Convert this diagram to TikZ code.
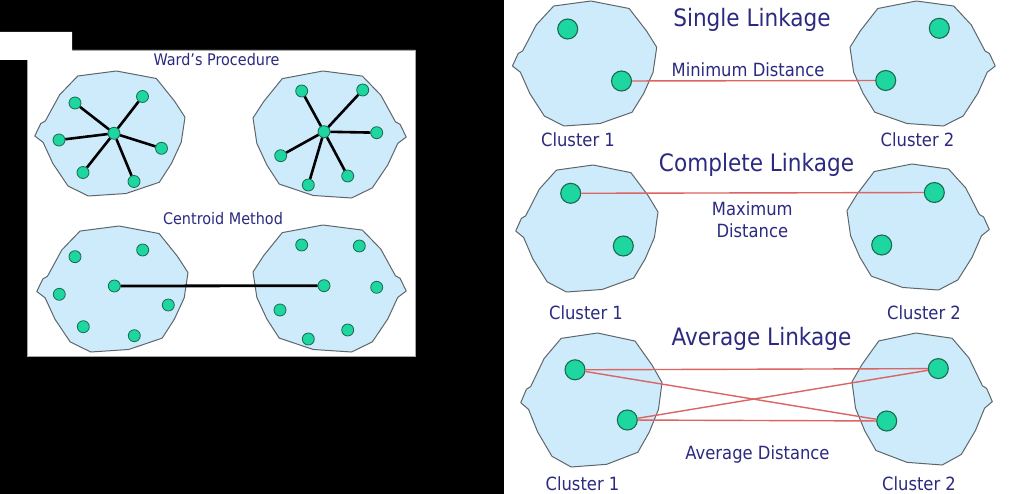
\documentclass[tikz,border=0pt]{standalone}
\usepackage{fontspec}
\setmainfont{DejaVu Sans}[FakeStretch=0.9]
\definecolor{txt}{HTML}{2B2A80}
\definecolor{blobfill}{HTML}{CDEBFA}
\definecolor{blobline}{HTML}{5F666B}
\definecolor{dotfill}{HTML}{1ED6A0}
\definecolor{dotline}{HTML}{1A6B50}
\definecolor{redline}{HTML}{DC6462}
\tikzset{
  blobstyle/.style={draw=blobline, fill=blobfill, line width=1pt, line join=round},
  blob/.pic={\path[blobstyle] (0.29,0.04) -- (0.546,0) -- (0.81,0.06) -- (0.93,0.24) -- (1,0.37) -- (0.975,0.57) -- (0.91,0.74) -- (0.83,0.89) -- (0.61,0.98) -- (0.36,1) -- (0.225,0.92) -- (0.125,0.74) -- (0.06,0.57) -- (0.005,0.52) -- (0.045,0.42) -- (0.075,0.40) -- (0.17,0.19) -- cycle;},
  sdot/.style={circle, draw=dotline, fill=dotfill, line width=0.8pt, minimum size=12pt, inner sep=0pt},
  bdot/.style={circle, draw=dotline, fill=dotfill, line width=1.1pt, minimum size=20pt, inner sep=0pt},
  spoke/.style={line width=2.6pt, black},
  link/.style={redline, line width=1.4pt},
  bigtitle/.style={text=txt, anchor=base, inner sep=0pt, font=\fontsize{24}{26}\selectfont},
  lab/.style={text=txt, anchor=base, inner sep=0pt, font=\fontsize{18.2}{20}\selectfont},
  smalltitle/.style={text=txt, anchor=base, inner sep=0pt, font=\fontsize{16}{18}\selectfont},
}
\begin{document}
\begin{tikzpicture}[x=1pt,y=-1pt]
\fill[black] (0,0) rectangle (1024,494);
\useasboundingbox (0,0) rectangle (1024,494);
\fill[white] (504,0) rectangle (1024,494);
\fill[white] (0,32) -- (72,32) -- (72,50) -- (415,50) -- (415,356) -- (27,356) -- (27,60) -- (0,60) -- cycle;
\draw[black!35, line width=0.8pt] (27,60) -- (27,356) -- (415,356) -- (415,50) -- (72,50);

% ---------- left panel ----------
\pic[xscale=151, yscale=125] at (34,71) {blob};
\pic[xscale=-154, yscale=127] at (407,71) {blob};
\pic[xscale=152, yscale=126] at (36,226) {blob};
\pic[xscale=-154, yscale=127] at (407,225) {blob};

\node[smalltitle] (wardt) at (216.5,65.5) {Ward’s Procedure};
\node[smalltitle] (centt) at (223,224.3) {Centroid Method};

% Ward left
\node[sdot] (wlc) at (114,133.3) {};
\node[sdot] (wl1) at (75,103) {};
\node[sdot] (wl2) at (142.5,96.5) {};
\node[sdot] (wl3) at (59,140) {};
\node[sdot] (wl4) at (161.5,148.3) {};
\node[sdot] (wl5) at (83,172.5) {};
\node[sdot] (wl6) at (134,181.5) {};
\foreach \i in {1,...,6} \draw[spoke] (wlc) -- (wl\i);
% Ward right
\node[sdot] (wrc) at (324,131.7) {};
\node[sdot] (wr1) at (301.7,91) {};
\node[sdot] (wr2) at (362.7,90) {};
\node[sdot] (wr3) at (376.7,132.7) {};
\node[sdot] (wr4) at (280.7,155.7) {};
\node[sdot] (wr5) at (347.7,176) {};
\node[sdot] (wr6) at (308.3,185) {};
\foreach \i in {1,...,6} \draw[spoke] (wrc) -- (wr\i);
% Centroid left
\node[sdot] (cl1) at (75,256.7) {};
\node[sdot] (cl2) at (142.7,250) {};
\node[sdot] (clc) at (114.3,286) {};
\node[sdot] (cl3) at (59.3,294.3) {};
\node[sdot] (cl4) at (168.3,305) {};
\node[sdot] (cl5) at (83.3,326.7) {};
\node[sdot] (cl6) at (134.3,335.7) {};
% Centroid right
\node[sdot] (cr1) at (301.7,245) {};
\node[sdot] (cr2) at (359.3,246) {};
\node[sdot] (crc) at (324,285.7) {};
\node[sdot] (cr3) at (376.7,287.3) {};
\node[sdot] (cr4) at (280,310) {};
\node[sdot] (cr5) at (347.7,330) {};
\node[sdot] (cr6) at (308.3,339) {};
\draw[spoke, line width=2.8pt] (clc) -- (crc);

% ---------- right panel ----------
\pic[xscale=145, yscale=125] at (511.7,1) {blob};
\pic[xscale=-146, yscale=125] at (996,1) {blob};
\pic[xscale=143, yscale=127] at (515,165) {blob};
\pic[xscale=-143, yscale=126] at (990,164) {blob};
\pic[xscale=142, yscale=134] at (520,333) {blob};
\pic[xscale=-141, yscale=132] at (993,333) {blob};

% Single linkage
\node[bigtitle] (st) at (752,27) {Single Linkage};
\node[bdot] (s11) at (567.7,29) {};
\node[bdot] (s12) at (621.5,81) {};
\node[bdot] (s21) at (939.3,28.3) {};
\node[bdot] (s22) at (885.7,80.5) {};
\draw[link] (s12) -- (s22);
\node[lab] (sd) at (748,76.3) {Minimum Distance};
\node[lab] (sc1) at (578,146.7) {Cluster 1};
\node[lab] (sc2) at (917.5,146.7) {Cluster 2};

% Complete linkage
\node[bigtitle] (ct) at (756.5,171.7) {Complete Linkage};
\node[bdot] (c11) at (570.7,193.3) {};
\node[bdot] (c12) at (623.3,246) {};
\node[bdot] (c21) at (934.3,192.5) {};
\node[bdot] (c22) at (881.7,245) {};
\draw[link] (c11) -- (c21);
\node[lab] (cd1) at (752.3,215) {Maximum};
\node[lab] (cd2) at (752.3,237.3) {Distance};
\node[lab] (cc1) at (586,319) {Cluster 1};
\node[lab] (cc2) at (924,319) {Cluster 2};

% Average linkage
\node[bigtitle] (at) at (761.5,345) {Average Linkage};
\node[bdot] (a11) at (575,369.8) {};
\node[bdot] (a12) at (627.3,420) {};
\node[bdot] (a21) at (938.3,368.6) {};
\node[bdot] (a22) at (886.7,421) {};
\draw[link] (a11) -- (a21);
\draw[link] (a11) -- (a22);
\draw[link] (a12) -- (a21);
\draw[link] (a12) -- (a22);
\node[lab] (ad) at (757.5,459.3) {Average Distance};
\node[lab] (ac1) at (582.5,490.7) {Cluster 1};
\node[lab] (ac2) at (919,490.7) {Cluster 2};
\end{tikzpicture}
\end{document}
